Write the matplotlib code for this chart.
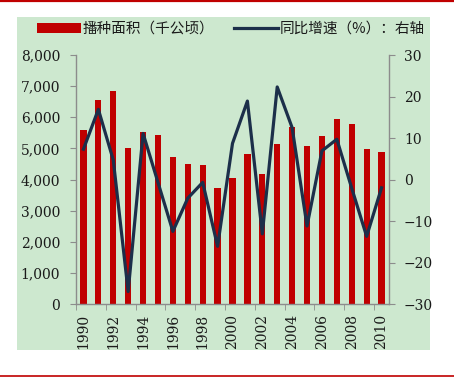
import matplotlib
matplotlib.use("Agg")
import matplotlib.pyplot as plt
import numpy as np
from matplotlib.patches import Rectangle, Patch
from matplotlib.lines import Line2D

# data
years = list(range(1990, 2011))
area = [5600, 6550, 6850, 5000, 5540, 5430, 4730, 4500, 4460, 3720, 4050,
        4830, 4180, 5135, 5700, 5070, 5400, 5950, 5780, 4970, 4870]
growth = [7.3, 16.9, 4.7, -27.0, 11.1, -0.7, -12.5, -4.5, -0.7, -16.1, 8.7,
          18.9, -13.1, 22.3, 12.5, -11.2, 6.9, 9.7, -2.1, -13.7, -2.0]
bar_label = "播种面积（千公顷）"
line_label = "同比增速（%）：右轴"

green = "#CDE8CF"
red = "#C00000"
navy = "#1C2F4A"
grey = "#8C8C8C"
txt = "#1A1A1A"

plt.rcParams['font.family'] = ['DejaVu Serif']

fig = plt.figure(figsize=(4.54, 3.77), dpi=100)
fig.patch.set_facecolor("white")

# green panel + red rules
panel = Rectangle((17/454, 1-350/377), 413/454, 333/377,
                  transform=fig.transFigure, facecolor=green,
                  edgecolor="none", zorder=-10)
fig.add_artist(panel)
fig.add_artist(Line2D([0, 1], [1-1/377, 1-1/377], transform=fig.transFigure,
                      color=red, lw=1.6))
fig.add_artist(Line2D([0, 1], [1-375.5/377, 1-375.5/377], transform=fig.transFigure,
                      color=red, lw=1.2))

ax = fig.add_axes([76/454, 1-304/377, 313/454, 249/377])
ax.set_facecolor("none")
x = np.arange(len(years))
ax.bar(x, area, width=0.42, color=red, zorder=2)
ax.set_xlim(-0.5, len(years) - 0.5)
ax.set_ylim(0, 8000)
ax.set_yticks(range(0, 8001, 1000))
ax.set_yticklabels([f"{v:,}" for v in range(0, 8001, 1000)], fontsize=10, color=txt)
ax.set_xticks(x[::2])
ax.set_xticklabels([str(y) for y in years[::2]], rotation=90, fontsize=10, color=txt)
ax.set_xticks(np.arange(-0.5, len(years), 2), minor=True)
ax.tick_params(axis='x', which='major', length=0, pad=7)
ax.tick_params(axis='x', which='minor', length=4, color=grey, direction='out')
ax.tick_params(axis='y', length=4, color=grey, pad=7.5)

ax2 = ax.twinx()
ax2.plot(x, growth, color=navy, lw=2.3, zorder=3)
ax2.set_ylim(-30, 30)
ax2.set_yticks(range(-30, 31, 10))
ax2.tick_params(axis='y', length=4, color=grey, pad=6.8, labelsize=10, labelcolor=txt)

for a in (ax, ax2):
    a.spines['top'].set_visible(False)
    for s in ('left', 'right', 'bottom'):
        a.spines[s].set_color(grey)
        a.spines[s].set_linewidth(1.0)
ax.spines['right'].set_visible(False)
ax2.spines['left'].set_visible(False)
ax2.spines['bottom'].set_visible(False)

handles = [Patch(facecolor=red, edgecolor='none'), Line2D([0], [0], color=navy, lw=2.3)]
fig.legend(handles, [bar_label, line_label], loc='center',
           bbox_to_anchor=(231/454, 1-29/377), ncol=2, frameon=False,
           prop={'family': ['Noto Sans CJK SC', 'DejaVu Sans'], 'size': 10.5},
           handlelength=3.0, handleheight=0.7, handletextpad=0.1, columnspacing=1.4,
           labelcolor=txt)

fig.savefig("out.png", dpi=100, facecolor="white")
